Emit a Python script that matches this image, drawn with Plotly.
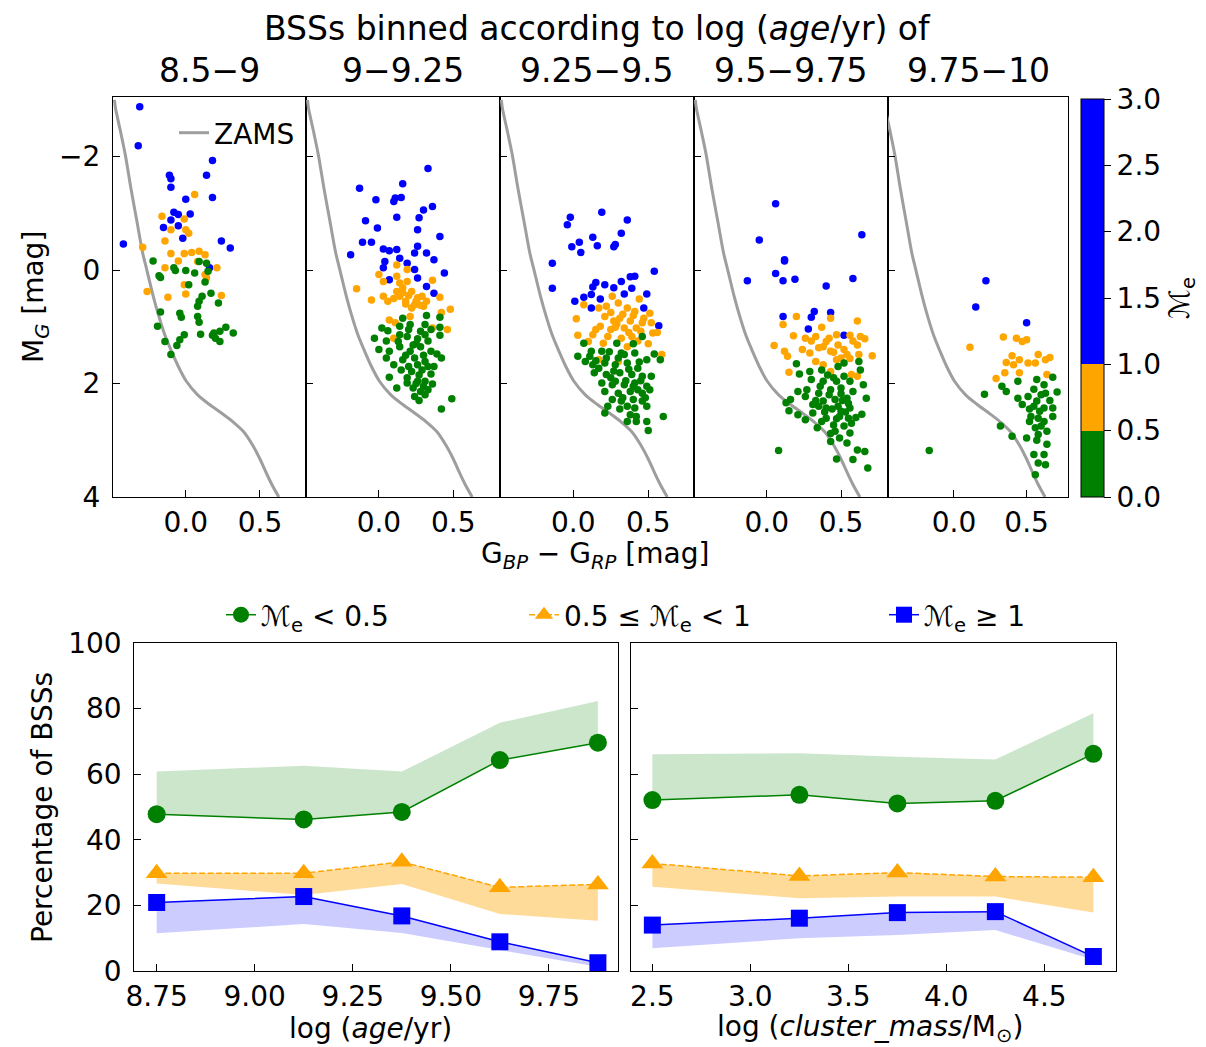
import plotly.graph_objects as go

# page body has an 8px margin: the figure is sized and positioned to compensate
OFF = 8
W, H = 1206 - OFF, 1047 - OFF
FONT = "DejaVu Sans"

# ---------------- data ----------------
BIN_LABELS = ["8.5−9", "9−9.25", "9.25−9.5", "9.5−9.75", "9.75−10"]

ZAMS_COLOR = [-0.48, -0.473, -0.44, -0.407, -0.37, -0.329, -0.29, -0.262, -0.22, -0.184,
              -0.14, -0.096, -0.05, 0.004, 0.08, 0.16, 0.24, 0.316, 0.39, 0.449, 0.5,
              0.538, 0.58, 0.627]
ZAMS_MAG = [-3.0, -2.85, -2.45, -2.03, -1.45, -0.86, -0.3, 0.0, 0.45, 0.79, 1.15, 1.43,
            1.7, 1.96, 2.2, 2.37, 2.52, 2.67, 2.85, 3.08, 3.33, 3.55, 3.78, 4.0]

P1_BLUE = [(-0.31,-2.88),(-0.32,-2.19),(0.18,-1.93),(-0.11,-1.67),(-0.10,-1.61),(0.14,-1.67),
           (-0.10,-1.46),(0.18,-1.28),(0.00,-1.25),(-0.08,-1.02),(-0.05,-0.98),(0.03,-0.99),
           (-0.10,-0.88),(-0.15,-0.75),(-0.05,-0.78),(-0.02,-0.56),(-0.42,-0.46),(0.24,-0.51),
           (0.30,-0.39),(0.16,-0.04)]
P1_ORANGE = [(0.06,-1.33),(-0.16,-0.95),(-0.01,-0.90),(0.00,-0.71),(0.02,-0.65),(-0.10,-0.71),
             (-0.14,-0.51),(-0.29,-0.40),(-0.10,-0.29),(-0.05,-0.16),(-0.01,-0.29),(0.04,-0.31),
             (0.09,-0.33),(0.13,-0.27),(0.08,-0.15),(-0.14,-0.04),(0.21,-0.04),(0.13,0.08),
             (0.14,0.14),(-0.01,0.26),(-0.26,0.38),(-0.12,0.48),(0.00,0.42),(0.24,0.45)]
P1_GREEN = [(-0.22,-0.16),(-0.08,-0.04),(-0.07,0.01),(-0.18,0.10),(-0.17,0.13),(0.00,0.01),
            (0.06,0.05),(0.09,-0.15),(0.14,-0.12),(0.15,0.02),(0.13,0.21),(0.02,0.26),
            (0.17,0.41),(0.11,0.46),(0.09,0.55),(0.08,0.64),(0.22,0.58),(-0.17,0.74),
            (-0.04,0.76),(-0.03,0.83),(0.08,0.82),(0.09,0.92),(-0.19,0.99),(-0.01,1.14),
            (-0.04,1.23),(-0.14,1.26),(-0.06,1.33),(-0.10,1.49),(0.10,1.13),(0.18,1.15),
            (0.20,1.20),(0.23,1.26),(0.27,1.01),(0.32,1.11),(0.23,1.08),(0.19,1.11)]

P2_BLUE = [(0.33,-1.79),(-0.13,-1.44),(0.16,-1.52),(-0.02,-1.24),(0.10,-1.21),(0.11,-1.27),
           (0.15,-1.28),(0.36,-1.12),(0.30,-1.06),(0.12,-0.93),(0.27,-0.92),(-0.09,-0.87),
           (-0.01,-0.74),(0.26,-0.71),(0.41,-0.59),(-0.11,-0.49),(-0.05,-0.49),(-0.19,-0.27),
           (0.03,-0.37),(0.07,-0.34),(0.12,-0.36),(0.26,-0.42),(0.24,-0.30),(0.32,-0.30),
           (0.37,-0.18),(0.04,-0.15),(0.14,-0.21),(0.19,-0.12),(0.03,-0.04),(0.24,-0.01),
           (0.26,0.14),(0.44,0.05),(0.07,0.17),(0.32,0.29),(0.37,0.41)]
P2_ORANGE = [(0.12,-0.09),(0.19,-0.01),(0.00,0.08),(0.03,0.20),(0.12,0.11),(0.14,0.23),
             (0.19,0.20),(0.36,0.18),(-0.15,0.33),(-0.05,0.53),(0.03,0.46),(0.06,0.55),
             (0.12,0.38),(0.14,0.46),(0.18,0.55),(0.22,0.38),(0.26,0.49),(0.29,0.46),
             (0.32,0.55),(0.30,0.64),(0.41,0.48),(0.22,0.67),(0.42,0.75),(0.48,0.69),
             (0.21,0.82),(0.07,0.88),(0.11,0.93),(0.10,1.20),(0.36,1.02),(0.46,1.05),
             (0.16,0.31),(0.24,0.61),(0.16,0.40),(0.20,0.45),(0.25,0.55),(0.18,0.60),
             (0.28,0.62),(0.10,0.50)]
P2_GREEN = [(0.16,0.85),(0.32,0.80),(0.41,0.83),(0.02,1.02),(0.06,1.07),(0.14,0.99),(0.21,0.96),
            (0.31,0.96),(0.41,1.01),(-0.03,1.20),(0.05,1.25),(0.14,1.14),(0.19,1.17),(0.26,1.21),
            (0.31,1.14),(0.41,1.15),(0.00,1.40),(0.07,1.43),(0.14,1.35),(0.21,1.43),(0.28,1.35),
            (0.35,1.43),(0.39,1.48),(0.42,1.55),(0.05,1.55),(0.16,1.58),(0.24,1.55),(0.31,1.61),
            (0.37,1.70),(0.15,1.76),(0.22,1.79),(0.29,1.76),(0.35,1.83),(0.07,1.89),(0.19,1.90),
            (0.26,1.96),(0.31,1.96),(0.36,2.01),(0.23,2.08),(0.28,2.14),(0.33,2.11),(0.24,2.23),
            (0.27,2.30),(0.31,2.20),(0.49,2.27),(0.42,2.45),(0.12,2.08),(0.19,1.99),(0.10,1.67),
            (0.26,1.67),(0.13,1.26),(0.23,1.32),(0.20,1.05),(0.28,1.08),(0.35,1.05),(0.25,1.30),
            (0.33,1.25),(0.18,1.50),(0.30,1.50),(0.27,1.85),(0.33,1.70),(0.20,1.70),(0.25,2.00),
            (0.30,2.05)]

P3_BLUE = [(0.19,-1.02),(-0.02,-0.93),(-0.04,-0.80),(0.36,-0.88),(0.32,-0.65),(0.13,-0.58),
           (0.04,-0.49),(-0.01,-0.41),(0.05,-0.31),(0.16,-0.43),(0.28,-0.45),(0.27,-0.41),
           (-0.14,-0.12),(0.54,0.02),(-0.14,0.32),(0.15,0.22),(0.13,0.30),(0.21,0.26),
           (0.27,0.31),(0.32,0.20),(0.38,0.12),(0.41,0.11),(0.39,0.32),(0.34,0.42),(0.49,0.42),
           (0.01,0.55),(0.07,0.48),(0.12,0.43),(0.18,0.51),(0.12,0.67),(0.47,0.67),(0.57,0.98)]
P3_ORANGE = [(0.26,0.46),(0.07,0.61),(0.02,0.86),(0.17,0.67),(0.22,0.64),(0.30,0.58),(0.36,0.67),
             (0.44,0.51),(0.41,0.73),(0.51,0.76),(0.21,0.82),(0.31,0.85),(0.38,0.90),(0.46,0.93),
             (0.52,0.93),(0.18,0.99),(0.28,1.01),(0.34,1.02),(0.42,1.02),(0.53,1.11),(0.56,1.10),
             (0.03,1.15),(0.13,1.14),(0.23,1.17),(0.32,1.20),(0.39,1.17),(0.10,1.26),(0.20,1.29),
             (0.36,1.35),(0.50,1.30),(0.59,1.49),(0.17,1.58),(0.30,1.61),(0.27,0.90),(0.25,0.75),
             (0.33,0.78),(0.40,0.80),(0.47,0.85),(0.29,0.95),(0.37,1.10),(0.45,1.08),(0.25,1.05),
             (0.15,1.05),(0.43,1.25)]
P3_GREEN = [(0.46,1.17),(0.07,1.29),(0.29,1.29),(0.40,1.30),(0.12,1.43),(0.19,1.43),(0.24,1.44),
            (0.32,1.46),(0.41,1.46),(0.54,1.48),(0.58,1.58),(0.03,1.52),(0.08,1.61),(0.13,1.67),
            (0.21,1.64),(0.28,1.67),(0.36,1.64),(0.43,1.73),(0.49,1.58),(0.14,1.81),(0.22,1.84),
            (0.31,1.81),(0.39,1.84),(0.46,1.87),(0.52,1.87),(0.19,1.99),(0.26,2.02),(0.34,2.02),
            (0.41,1.99),(0.49,2.05),(0.21,2.14),(0.30,2.17),(0.38,2.14),(0.46,2.17),(0.51,2.11),
            (0.26,2.28),(0.32,2.31),(0.40,2.28),(0.46,2.31),(0.23,2.40),(0.36,2.40),(0.41,2.43),
            (0.49,2.40),(0.21,2.52),(0.36,2.67),(0.42,2.58),(0.42,2.67),(0.49,2.67),(0.50,2.83),
            (0.60,2.58),(0.11,1.52),(0.34,1.49),(0.28,1.96),(0.43,2.11),(0.17,1.73),(0.30,1.55),
            (0.37,1.75),(0.45,1.95),(0.25,1.90),(0.33,2.25),(0.40,2.05),(0.48,2.25),(0.35,1.95),
            (0.15,1.60),(0.27,1.78),(0.44,1.62),(0.31,2.45),(0.38,2.55),(0.22,1.55)]

P4_BLUE = [(0.06,-1.17),(-0.05,-0.53),(0.64,-0.62),(0.12,-0.18),(0.12,-0.16),(0.06,0.06),
           (0.11,0.19),(0.19,0.16),(-0.13,0.19),(0.40,0.28),(0.58,0.15),(0.11,0.82),(0.32,0.73),
           (0.30,0.83),(0.43,0.75),(0.28,1.04),(0.52,1.15)]
P4_ORANGE = [(0.20,0.82),(0.11,0.96),(0.37,1.01),(0.43,0.85),(0.61,0.90),(0.18,1.16),(0.26,1.20),
             (0.33,1.17),(0.40,1.26),(0.47,1.14),(0.56,1.15),(0.63,1.17),(0.66,1.21),(0.05,1.33),
             (0.12,1.43),(0.14,1.52),(0.24,1.40),(0.29,1.46),(0.35,1.37),(0.43,1.43),(0.48,1.32),
             (0.54,1.49),(0.61,1.32),(0.62,1.49),(0.71,1.51),(0.33,1.61),(0.47,1.58),(0.56,1.56),
             (0.15,1.80),(0.43,1.79),(0.57,1.84),(0.61,1.87),(0.38,1.67),(0.30,1.25),(0.38,1.35),
             (0.45,1.45),(0.52,1.40),(0.58,1.25),(0.42,1.20),(0.50,1.55)]
P4_GREEN = [(0.20,1.65),(0.22,1.83),(0.29,1.79),(0.37,1.76),(0.48,1.70),(0.52,1.64),(0.62,1.61),
            (0.63,1.76),(0.30,1.93),(0.38,1.96),(0.45,1.90),(0.52,1.87),(0.56,1.96),(0.65,2.02),
            (0.21,2.14),(0.27,2.11),(0.35,2.17),(0.43,2.11),(0.50,2.08),(0.58,2.14),(0.26,2.23),
            (0.38,2.31),(0.46,2.28),(0.54,2.26),(0.67,2.26),(0.13,2.34),(0.31,2.37),(0.40,2.43),
            (0.48,2.40),(0.56,2.43),(0.15,2.48),(0.21,2.55),(0.31,2.52),(0.40,2.61),(0.49,2.58),
            (0.55,2.61),(0.64,2.54),(0.26,2.64),(0.37,2.67),(0.45,2.73),(0.52,2.75),(0.34,2.78),
            (0.46,2.84),(0.56,2.87),(0.49,2.96),(0.43,3.02),(0.54,3.05),(0.61,3.17),(0.66,3.20),
            (0.08,3.18),(0.47,3.33),(0.58,3.34),(0.68,3.49),(0.16,2.28),(0.47,1.96),(0.50,2.49),
            (0.36,2.05),(0.42,2.20),(0.44,2.45),(0.51,2.30),(0.47,2.62),(0.53,2.50),(0.39,2.50),
            (0.33,2.30),(0.57,2.70),(0.43,2.88),(0.50,2.18),(0.41,1.85),(0.55,2.35),(0.35,2.40),
            (0.60,2.60)]

P5_BLUE = [(0.22,0.19),(0.15,0.65),(0.50,0.93)]
P5_ORANGE = [(0.34,1.18),(0.43,1.20),(0.47,1.26),(0.50,1.23),(0.11,1.36),(0.40,1.51),(0.45,1.58),
             (0.36,1.63),(0.41,1.67),(0.51,1.64),(0.58,1.49),(0.56,1.64),(0.63,1.58),(0.66,1.54),
             (0.35,1.81),(0.45,1.81),(0.29,1.91),(0.64,1.84)]
P5_GREEN = [(0.33,2.05),(0.36,2.14),(0.44,1.96),(0.57,1.93),(0.68,1.89),(0.62,2.02),(0.71,2.15),
            (0.21,2.19),(0.44,2.26),(0.51,2.23),(0.57,2.31),(0.63,2.17),(0.47,2.37),(0.55,2.40),
            (0.62,2.43),(0.68,2.43),(0.53,2.58),(0.58,2.61),(0.52,2.67),(0.62,2.67),(0.56,2.78),
            (0.64,2.84),(0.50,2.96),(0.58,2.90),(0.32,2.75),(0.40,2.93),(0.64,3.07),(0.55,3.25),
            (0.62,3.25),(0.58,3.40),(0.63,3.43),(0.56,3.61),(-0.17,3.18),(0.68,2.58),(0.59,2.49),
            (0.55,2.10),(0.60,2.20),(0.52,2.45),(0.60,2.75),(0.66,2.30),(0.57,3.00)]

PANELS = [
    {"blue": P1_BLUE, "orange": P1_ORANGE, "green": P1_GREEN},
    {"blue": P2_BLUE, "orange": P2_ORANGE, "green": P2_GREEN},
    {"blue": P3_BLUE, "orange": P3_ORANGE, "green": P3_GREEN},
    {"blue": P4_BLUE, "orange": P4_ORANGE, "green": P4_GREEN},
    {"blue": P5_BLUE, "orange": P5_ORANGE, "green": P5_GREEN},
]

# bottom-left: fraction vs age
AGE = [8.75, 9.125, 9.375, 9.625, 9.875]
AGE_LOW = [47.8, 46.2, 48.5, 64.3, 69.6]
AGE_LOW_UP = [60.8, 62.6, 60.8, 75.7, 82.3]
AGE_MID = [29.8, 29.8, 33.3, 25.5, 26.4]
AGE_MID_DN = [26.7, 23.2, 26.5, 17.4, 15.3]
AGE_HIGH = [20.9, 22.7, 16.8, 8.9, 2.5]
AGE_HIGH_DN = [11.5, 14.3, 11.6, 6.4, 1.3]

# bottom-right: fraction vs cluster mass
MASS = [2.5, 3.25, 3.75, 4.25, 4.75]
MASS_LOW = [52.1, 53.7, 51.1, 51.9, 66.2]
MASS_LOW_UP = [66.1, 66.4, 65.3, 64.5, 78.6]
MASS_MID = [32.8, 29.0, 30.0, 28.8, 28.6]
MASS_MID_DN = [25.7, 22.2, 22.7, 22.7, 17.8]
MASS_HIGH = [14.0, 16.1, 17.8, 18.1, 4.4]
MASS_HIGH_DN = [6.9, 10.0, 11.0, 12.5, 3.4]

CB_BOUNDS = [0.0, 0.5, 1.0, 3.0]
CB_TICKS = [0.0, 0.5, 1.0, 1.5, 2.0, 2.5, 3.0]

AGE_TICKS = [8.75, 9.0, 9.25, 9.5, 9.75]
MASS_TICKS = [2.5, 3.0, 3.5, 4.0, 4.5]
PCT_TICKS = [0, 20, 40, 60, 80, 100]

# ---------------- styling ----------------
C_GREEN, C_ORANGE, C_BLUE = "#008000", "#ffa500", "#0000ff"
F_GREEN, F_ORANGE, F_BLUE = "rgba(0,128,0,0.2)", "rgba(255,165,0,0.4)", "rgba(0,0,255,0.2)"
TICK = 28
TITLE = 33


def fx(px):
    return (px - OFF) / W


def fy(py):
    return 1 - (py - OFF) / H


TOP_PX = [(113, 306), (306, 500), (500, 694), (694, 888), (888, 1068)]
TOP_XR = [(-0.49, 0.81), (-0.49, 0.814), (-0.489, 0.805), (-0.489, 0.816), (-0.454, 0.785)]
TOP_Y = (97, 497)

fig = go.Figure()
layout = {}

axis_common = dict(showgrid=False, zeroline=False, showline=True, linecolor="black",
                   linewidth=1, mirror=True, ticks="inside", ticklen=7, tickwidth=1,
                   tickcolor="black", tickfont=dict(family=FONT, size=TICK, color="black"))

for i, panel in enumerate(PANELS):
    n = i + 1
    xa = "x" if n == 1 else f"x{n}"
    ya = "y" if n == 1 else f"y{n}"
    fig.add_trace(go.Scatter(x=ZAMS_COLOR, y=ZAMS_MAG, mode="lines", xaxis=xa, yaxis=ya,
                             line=dict(color="rgb(158,158,158)", width=3, shape="spline",
                                       smoothing=0.8),
                             name="ZAMS", showlegend=(n == 1), legend="legend"))
    for key, col in (("blue", C_BLUE), ("orange", C_ORANGE), ("green", C_GREEN)):
        pts = panel[key]
        fig.add_trace(go.Scatter(x=[p[0] for p in pts], y=[p[1] for p in pts], mode="markers",
                                 xaxis=xa, yaxis=ya, showlegend=False,
                                 marker=dict(color=col, size=7.5, line=dict(width=0))))
    x0, x1 = TOP_PX[i]
    layout["xaxis" if n == 1 else f"xaxis{n}"] = dict(
        axis_common, domain=[fx(x0), fx(x1)], anchor=ya, range=list(TOP_XR[i]),
        tickvals=[0.0, 0.5], ticktext=["0.0", "0.5"])
    layout["yaxis" if n == 1 else f"yaxis{n}"] = dict(
        axis_common, domain=[fy(TOP_Y[1]), fy(TOP_Y[0])], anchor=xa, range=[4, -3.05],
        tickvals=[-2, 0, 2, 4], ticktext=["−2", "0", "2", "4"], showticklabels=(n == 1),
        ticklabelstandoff=6)

# colorbar (discrete)
top = CB_BOUNDS[-1]
cscale = []
cb_colors = [C_GREEN, C_ORANGE, C_BLUE]
for k, col in enumerate(cb_colors):
    cscale.append([CB_BOUNDS[k] / top, col])
    cscale.append([CB_BOUNDS[k + 1] / top, col])
fig.add_trace(go.Scatter(
    x=[None], y=[None], mode="markers", xaxis="x", yaxis="y", showlegend=False,
    marker=dict(color=[0.0], cmin=0, cmax=3, colorscale=cscale, showscale=True,
                colorbar=dict(x=fx(1081), xanchor="left", y=fy(298), yanchor="middle",
                              len=398 / H, lenmode="fraction", thickness=23,
                              thicknessmode="pixels", xpad=0, ypad=0, outlinewidth=1,
                              outlinecolor="black", ticks="outside", ticklen=7, tickwidth=1,
                              tickcolor="black", tickvals=CB_TICKS,
                              ticktext=[f"{v:.1f}" for v in CB_TICKS],
                              tickfont=dict(family=FONT, size=TICK, color="black"),
                              title=dict(text="ℳ<sub>e</sub>", side="right",
                                         font=dict(family=FONT, size=TICK, color="black"))))))

# bottom panels
def band(x, lo, hi, fill, xa, ya):
    fig.add_trace(go.Scatter(x=list(x) + list(x)[::-1], y=list(hi) + list(lo)[::-1],
                             fill="toself", fillcolor=fill, line=dict(width=0), mode="lines",
                             xaxis=xa, yaxis=ya, showlegend=False, hoverinfo="skip"))


LEG_NAMES = ["ℳ<sub>e</sub> &lt; 0.5", "0.5 ≤ ℳ<sub>e</sub> &lt; 1", "ℳ<sub>e</sub> ≥ 1"]

for (xs, low, lowup, mid, middn, high, highdn, xa, ya, first) in (
        (AGE, AGE_LOW, AGE_LOW_UP, AGE_MID, AGE_MID_DN, AGE_HIGH, AGE_HIGH_DN, "x6", "y6", True),
        (MASS, MASS_LOW, MASS_LOW_UP, MASS_MID, MASS_MID_DN, MASS_HIGH, MASS_HIGH_DN, "x7", "y7", False)):
    band(xs, low, lowup, F_GREEN, xa, ya)
    band(xs, middn, mid, F_ORANGE, xa, ya)
    band(xs, highdn, high, F_BLUE, xa, ya)
    fig.add_trace(go.Scatter(x=xs, y=low, mode="lines+markers", xaxis=xa, yaxis=ya,
                             name=LEG_NAMES[0], showlegend=first, legend="legend2",
                             line=dict(color=C_GREEN, width=1.5),
                             marker=dict(symbol="circle", size=18, color=C_GREEN)))
    fig.add_trace(go.Scatter(x=xs, y=mid, mode="lines+markers", xaxis=xa, yaxis=ya,
                             name=LEG_NAMES[1], showlegend=first, legend="legend3",
                             line=dict(color=C_ORANGE, width=1.5, dash="6px,2.5px"),
                             marker=dict(symbol="triangle-up", size=19, color=C_ORANGE)))
    fig.add_trace(go.Scatter(x=xs, y=high, mode="lines+markers", xaxis=xa, yaxis=ya,
                             name=LEG_NAMES[2], showlegend=first, legend="legend4",
                             line=dict(color=C_BLUE, width=1.5),
                             marker=dict(symbol="square", size=17, color=C_BLUE)))

BY = (643, 971)
layout["xaxis6"] = dict(axis_common, domain=[fx(134.3), fx(618.3)], anchor="y6",
                        range=[8.693, 9.927], tickvals=AGE_TICKS,
                        ticktext=[f"{v:.2f}" for v in AGE_TICKS])
layout["yaxis6"] = dict(axis_common, domain=[fy(BY[1]), fy(BY[0])], anchor="x6",
                        range=[0, 100], tickvals=PCT_TICKS, ticktext=[str(v) for v in PCT_TICKS],
                        ticklabelstandoff=6)
layout["xaxis7"] = dict(axis_common, domain=[fx(631), fx(1115.7)], anchor="y7",
                        range=[2.391, 4.864], tickvals=MASS_TICKS,
                        ticktext=[f"{v:.1f}" for v in MASS_TICKS])
layout["yaxis7"] = dict(axis_common, domain=[fy(BY[1]), fy(BY[0])], anchor="x7",
                        range=[0, 100], tickvals=PCT_TICKS, showticklabels=False)

LF = dict(family=FONT, size=TICK, color="black")
leg_common = dict(orientation="h", bgcolor="rgba(0,0,0,0)", borderwidth=0, font=LF,
                  yanchor="middle", xanchor="left", tracegroupgap=0, itemwidth=30)
layout["legend"] = dict(leg_common, x=fx(174), y=fy(133))
layout["legend2"] = dict(leg_common, x=fx(221), y=fy(615))
layout["legend3"] = dict(leg_common, x=fx(524), y=fy(615))
layout["legend4"] = dict(leg_common, x=fx(884), y=fy(615))

# texts
ann = []
TF = dict(family=FONT, size=TITLE, color="black")
ann.append(dict(text="BSSs binned according to log (<i>age</i>/yr) of", x=fx(597), y=fy(28),
                showarrow=False, font=TF, xanchor="center", yanchor="middle"))
for i, lab in enumerate(BIN_LABELS):
    x0, x1 = TOP_PX[i]
    ann.append(dict(text=lab, x=fx((x0 + x1) / 2), y=fy(70), showarrow=False, font=TF,
                    xanchor="center", yanchor="middle"))
AF = dict(family=FONT, size=TICK, color="black")
ann.append(dict(text="M<sub><i>G</i></sub> [mag]", x=fx(35), y=fy(297), textangle=-90,
                showarrow=False, font=AF, xanchor="center", yanchor="middle"))
ann.append(dict(text="G<sub><i>BP</i></sub> − G<sub><i>RP</i></sub> [mag]", x=fx(595), y=fy(555),
                showarrow=False, font=AF, xanchor="center", yanchor="middle"))
ann.append(dict(text="Percentage of BSSs", x=fx(42), y=fy(808), textangle=-90,
                showarrow=False, font=AF, xanchor="center", yanchor="middle"))
ann.append(dict(text="log (<i>age</i>/yr)", x=fx(370), y=fy(1028),
                showarrow=False, font=AF, xanchor="center", yanchor="middle"))
ann.append(dict(text="log (<i>cluster_mass</i>/M<sub>⊙</sub>)", x=fx(870), y=fy(1028),
                showarrow=False, font=AF, xanchor="center", yanchor="middle"))
for a in ann:
    a.setdefault("xref", "paper")
    a.setdefault("yref", "paper")

fig.update_layout(width=W, height=H,
                  margin=dict(l=0, r=0, t=0, b=0, pad=0, autoexpand=False),
                  paper_bgcolor="white", plot_bgcolor="white",
                  font=dict(family=FONT, color="black"), annotations=ann, **layout)

fig.write_html("out.html")
